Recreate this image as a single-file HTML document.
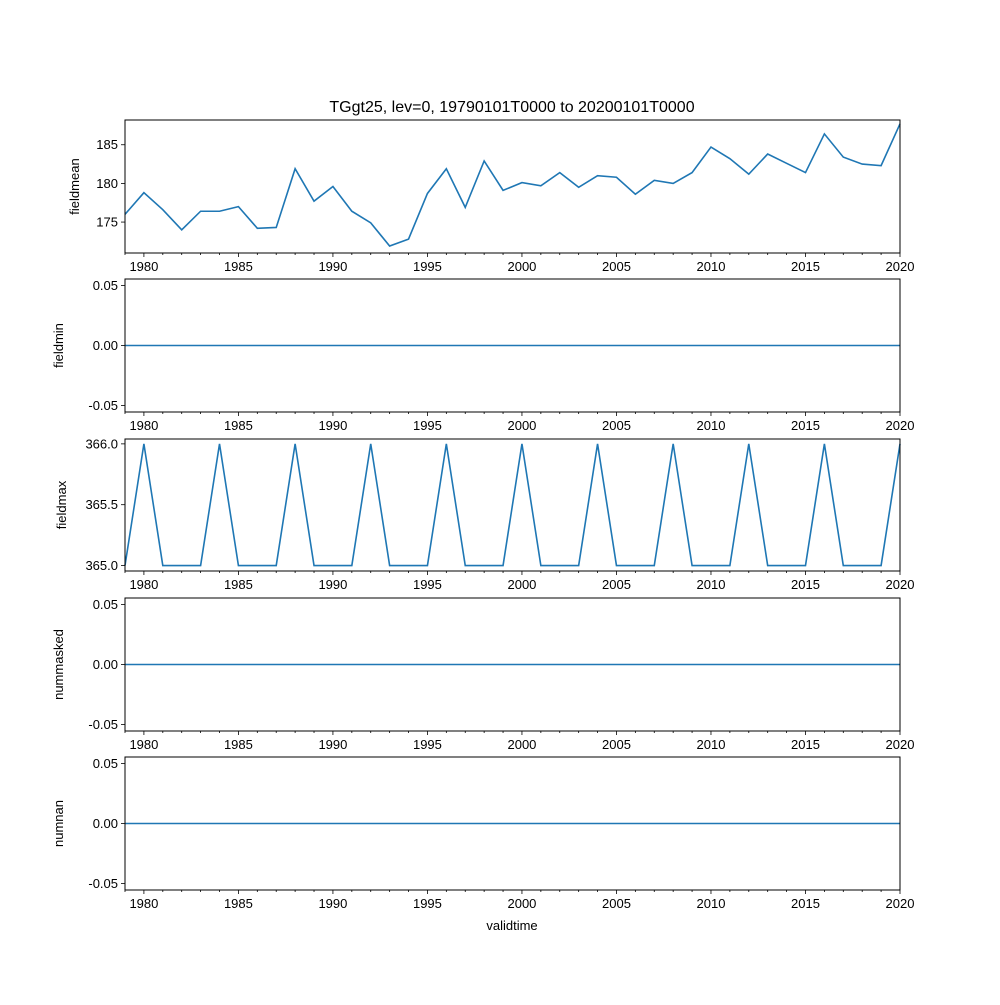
<!DOCTYPE html>
<html><head><meta charset="utf-8"><style>
body{margin:0;background:#fff}
svg text{font-family:"Liberation Sans","DejaVu Sans",sans-serif;fill:#000}
</style></head><body>
<svg id="chart" width="1000" height="1000" xmlns="http://www.w3.org/2000/svg"></svg>
<script>
const years = [];
for (let y = 1979; y <= 2020; y++) years.push(y);
const fieldmean = [176.0,178.8,176.6,174.0,176.4,176.4,177.0,174.2,174.3,181.9,177.7,179.6,176.4,174.9,171.9,172.8,178.7,181.9,176.9,182.9,179.1,180.1,179.7,181.4,179.5,181.0,180.8,178.6,180.4,180.0,181.4,184.7,183.2,181.2,183.8,182.6,181.4,186.4,183.4,182.5,182.3,187.7];
const fieldmin = years.map(() => 0);
const fieldmax = [365,366,365,365,365,366,365,365,365,366,365,365,365,366,365,365,365,366,365,365,365,366,365,365,365,366,365,365,365,366,365,365,365,366,365,365,365,366,365,365,365,366];
const nummasked = years.map(() => 0);
const numnan = years.map(() => 0);
const xTicks = [1980,1985,1990,1995,2000,2005,2010,2015,2020];

const panels = [
  {name:'fieldmean', data:fieldmean, top:120, bottom:253, ymin:171.0, ymax:188.2, ticks:[175,180,185], fmt:v=>String(v)},
  {name:'fieldmin', data:fieldmin, top:279, bottom:412, ymin:-0.0554, ymax:0.0554, ticks:[-0.05,0,0.05], fmt:v=>v.toFixed(2)},
  {name:'fieldmax', data:fieldmax, top:439, bottom:571, ymin:364.955, ymax:366.04, ticks:[365,365.5,366], fmt:v=>v.toFixed(1)},
  {name:'nummasked', data:nummasked, top:598, bottom:731, ymin:-0.0554, ymax:0.0554, ticks:[-0.05,0,0.05], fmt:v=>v.toFixed(2)},
  {name:'numnan', data:numnan, top:757, bottom:890, ymin:-0.0554, ymax:0.0554, ticks:[-0.05,0,0.05], fmt:v=>v.toFixed(2)}
];
const L = 125, R = 900;
const svg = document.getElementById('chart');
const NS = 'http://www.w3.org/2000/svg';
function mk(tag, attrs, parent){const e=document.createElementNS(NS,tag);for(const k in attrs)e.setAttribute(k,attrs[k]);(parent||svg).appendChild(e);return e;}
const xs = y => L + (y - 1979) / (2020 - 1979) * (R - L);

const title = mk('text',{x:512,y:112,'text-anchor':'middle','font-size':16});
title.textContent = 'TGgt25, lev=0, 19790101T0000 to 20200101T0000';



panels.forEach(p => {
  const g = mk('g',{});
  
  
  const ys = v => p.bottom - (v - p.ymin) / (p.ymax - p.ymin) * (p.bottom - p.top);
  const pts = p.data.map((v,i) => xs(years[i]).toFixed(2) + ',' + ys(v).toFixed(2)).join(' ');
  const line = mk('polyline',{points:pts,fill:'none',stroke:'#1f77b4','stroke-width':1.6},g);
  
  
  const frame = mk('rect',{x:L,y:p.top,width:R-L,height:p.bottom-p.top,fill:'none',stroke:'#000','stroke-width':1},g);
  
  
  years.forEach(y => {
    const major = xTicks.includes(y);
    mk('line',{x1:xs(y),x2:xs(y),y1:p.bottom,y2:p.bottom+(major?4:2),stroke:'#000','stroke-width':0.8},g);
  });
  xTicks.forEach(y => {
    const t = mk('text',{x:xs(y),y:p.bottom+18,'text-anchor':'middle','font-size':13},g);
    t.textContent = y;
    
    
  });
  p.ticks.forEach(v => {
    mk('line',{x1:L-4,x2:L,y1:ys(v),y2:ys(v),stroke:'#000','stroke-width':0.8},g);
    const t = mk('text',{x:L-7,y:ys(v)+4.5,'text-anchor':'end','font-size':13},g);
    t.textContent = p.fmt(v);
    
    
  });
  const yl = p.ticks[0] < 0 ? 63 : (p.name==='fieldmax'?66:79);
  const cy = (p.top + p.bottom) / 2;
  const lab = mk('text',{x:yl,y:cy,'text-anchor':'middle','font-size':13,transform:`rotate(-90 ${yl} ${cy})`},g);
  lab.textContent = p.name;
  
  
});
const xl = mk('text',{x:512,y:930,'text-anchor':'middle','font-size':13});
xl.textContent = 'validtime';


</script>
</body></html>
